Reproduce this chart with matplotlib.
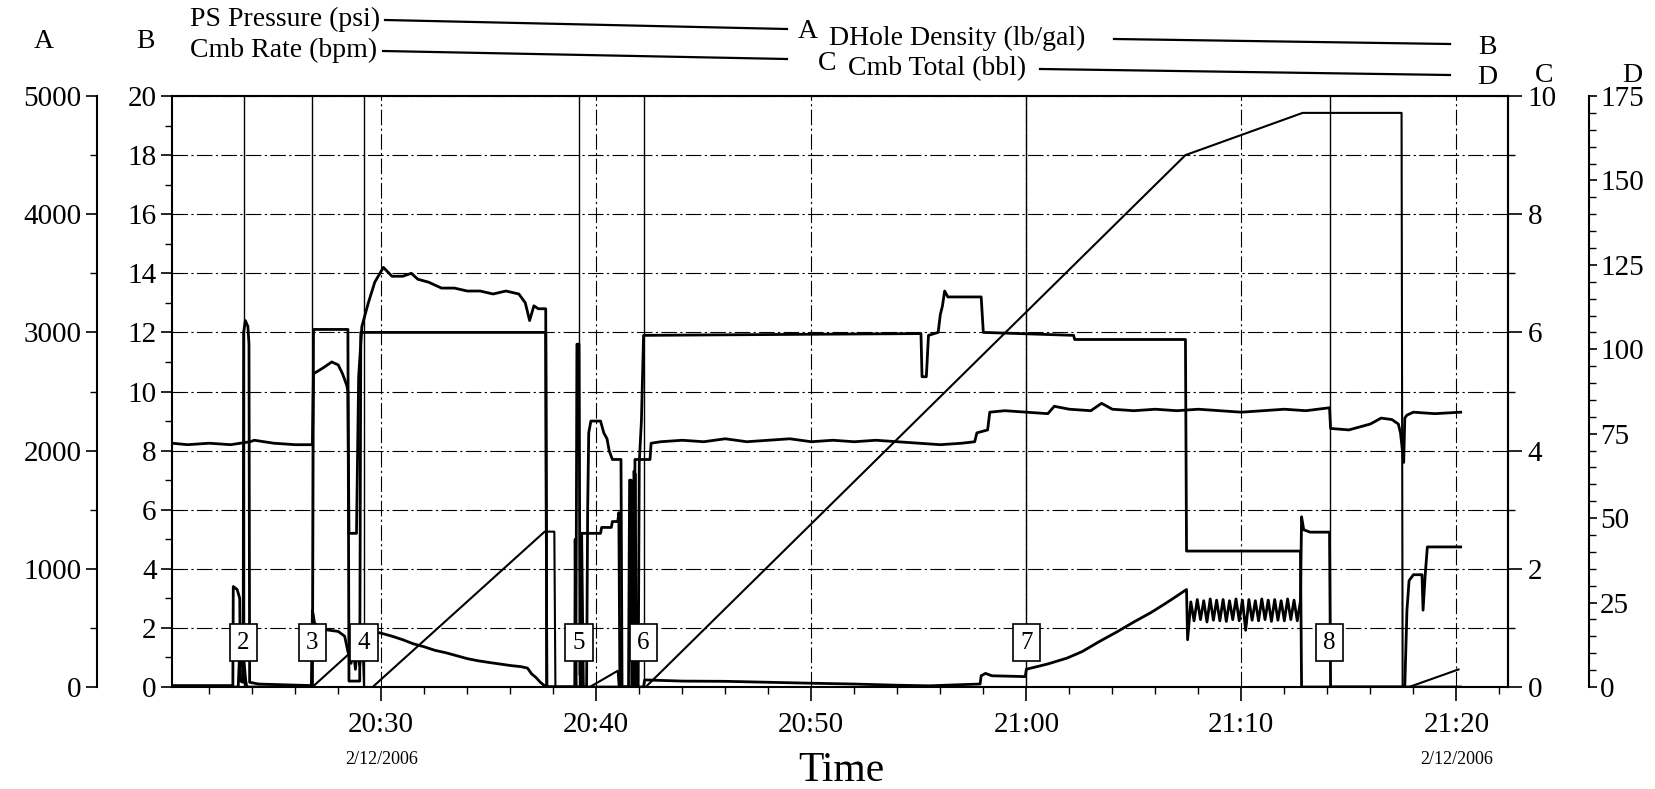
import matplotlib
matplotlib.use("Agg")
import matplotlib.pyplot as plt
from matplotlib.lines import Line2D
from matplotlib.ticker import MultipleLocator

plt.rcParams['font.family'] = ['Liberation Serif', 'DejaVu Serif']

# time is minutes after 20:00 on 2/12/2006

# PS Pressure (psi) -> axis A
press_t = [20.27, 23.1, 23.12, 23.3, 23.42, 23.45, 23.58, 23.6, 23.68, 23.8, 23.85, 23.88,
           24.3, 26.75, 26.8, 26.9, 27.2, 27.6, 28.0, 28.3, 28.45, 28.6, 28.7, 28.8, 28.9,
           29.0, 29.1, 29.3, 29.6, 30.0, 30.5, 31.0, 31.5, 32.0, 32.5, 33.0, 33.5, 34.0,
           34.5, 35.0, 35.5, 36.0, 36.5, 36.8, 37.0, 37.2, 37.4, 37.6, 37.7,
           39.0, 39.02, 39.06, 39.3, 39.32, 39.4, 42.2, 42.25, 44.0, 46.0, 48.0, 50.0,
           52.0, 54.0, 55.5, 57.0, 57.85, 57.9, 58.1, 58.4, 59.95, 60.0, 61.0, 61.9, 62.6,
           63.4, 64.2, 65.0, 65.8, 66.5, 67.0, 67.45,
           67.5, 67.65, 67.8, 67.95, 68.1, 68.25, 68.4, 68.55, 68.7, 68.85, 69.0, 69.15,
           69.3, 69.45, 69.6, 69.75, 69.9, 70.05, 70.2, 70.35, 70.5, 70.65, 70.8, 70.95,
           71.1, 71.25, 71.4, 71.55, 71.7, 71.85, 72.0, 72.15, 72.3, 72.45, 72.6, 72.75,
           72.8, 72.9, 73.2, 74.1, 74.15, 80.2]
press_psi = [12, 12, 850, 825, 750, 50, 40, 3000, 3100, 3050, 2900, 40,
             25, 12, 650, 540, 490, 480, 470, 430, 300, 200, 330, 150, 350,
             180, 380, 460, 470, 455, 430, 400, 365, 340, 310, 290, 265, 240,
             222, 208, 195, 182, 172, 160, 110, 80, 40, 10, 0,
             0, 1250, 0, 0, 1300, 0, 0, 60, 50, 48, 40, 32,
             25, 15, 10, 20, 25, 95, 115, 95, 88, 150, 195, 245, 300,
             385, 465, 550, 630, 710, 770, 825,
             400, 720, 560, 740, 570, 730, 550, 745, 565, 735, 560, 740,
             555, 730, 570, 745, 560, 735, 480, 740, 565, 730, 560, 745,
             570, 735, 555, 740, 565, 730, 560, 745, 570, 735, 560, 730,
             1440, 1330, 1310, 1310, 0, 0]

# DHole Density (lb/gal) -> axis B
dens_t = [20.27, 21.0, 22.0, 23.0, 23.9, 24.1, 25.0, 26.0, 26.8, 26.85, 27.3, 27.7,
          28.0, 28.2, 28.4, 28.45, 28.5, 28.85, 28.95, 29.1, 29.4, 29.7, 30.1, 30.5,
          31.0, 31.4, 31.7, 32.2, 32.8, 33.4, 34.0, 34.6, 35.2, 35.8, 36.4, 36.7, 36.9,
          37.1, 37.3, 37.65, 37.7, 39.55, 39.6, 39.65, 39.75, 40.2, 40.35, 40.5, 40.6,
          40.75, 41.15, 41.2, 41.75, 41.8, 42.5, 42.55, 43.0, 44.0, 45.0, 46.0, 47.0,
          48.0, 49.0, 50.0, 51.0, 52.0, 53.0, 54.0, 55.0, 56.0, 57.0, 57.6, 57.7, 58.2,
          58.3, 59.0, 60.0, 61.0, 61.3, 62.0, 63.0, 63.5, 64.0, 65.0, 66.0, 67.0, 68.0,
          69.0, 70.0, 71.0, 72.0, 73.0, 74.1, 74.15, 75.0, 75.5, 76.0, 76.5, 77.0, 77.3,
          77.4, 77.55, 77.6, 77.7, 78.0, 79.0, 80.2]
dens_ppg = [8.25, 8.2, 8.25, 8.2, 8.3, 8.35, 8.25, 8.2, 8.2, 10.6, 10.8, 11.0,
            10.9, 10.6, 10.2, 10.0, 5.2, 5.2, 10.5, 12.2, 13.0, 13.7, 14.2, 13.9,
            13.9, 14.0, 13.8, 13.7, 13.5, 13.5, 13.4, 13.4, 13.3, 13.4, 13.3, 13.0, 12.4,
            12.9, 12.8, 12.8, 0, 0, 6.0, 8.6, 9.0, 9.0, 8.6, 8.4, 8.0,
            7.7, 7.7, 0, 0, 7.7, 7.7, 8.25, 8.3, 8.35, 8.3, 8.4, 8.3,
            8.35, 8.4, 8.3, 8.35, 8.3, 8.35, 8.3, 8.25, 8.2, 8.25, 8.3, 8.6, 8.7,
            9.3, 9.35, 9.3, 9.25, 9.5, 9.4, 9.35, 9.6, 9.4, 9.35, 9.4, 9.35, 9.4,
            9.35, 9.3, 9.35, 9.4, 9.35, 9.45, 8.75, 8.7, 8.8, 8.9, 9.1, 9.05, 8.9,
            8.6, 7.6, 9.1, 9.2, 9.3, 9.25, 9.3]

# Cmb Rate (bpm) -> axis C
rate_t = [20.27, 23.35, 23.4, 23.5, 23.6, 23.7, 23.75, 26.8, 26.85, 28.45, 28.5, 29.0,
          29.05, 37.65, 37.7, 39.05, 39.1, 39.2, 39.25, 39.3, 40.2, 40.25, 40.7, 40.75,
          41.0, 41.05, 41.1, 41.5, 41.55, 41.62, 41.65, 41.72, 41.75, 41.82, 41.85,
          41.95, 42.0, 42.1, 42.2, 55.1, 55.15, 55.35, 55.45, 55.9, 56.0, 56.1, 56.2,
          56.35, 57.9, 58.0, 62.2, 62.25, 67.4, 67.45, 72.75, 72.8, 77.6, 77.7, 77.8,
          78.0, 78.4, 78.45, 78.55, 78.65, 80.2]
rate_bpm = [0, 0, 0.45, 0.35, 0.5, 0.1, 0, 0, 6.05, 6.05, 0.1, 0.1,
            6.0, 6.0, 0, 0, 5.8, 5.8, 0.2, 2.6, 2.6, 2.7, 2.7, 2.8,
            2.8, 2.95, 0, 0, 3.5, 3.5, 0, 0, 3.65, 3.6, 0,
            0, 3.8, 4.5, 5.95, 5.98, 5.25, 5.25, 5.95, 6.0, 6.3, 6.45, 6.7,
            6.6, 6.6, 6.0, 5.95, 5.88, 5.88, 2.3, 2.3, 0, 0, 1.3, 1.8,
            1.9, 1.9, 1.3, 1.9, 2.37, 2.37]

# Cmb Total (bbl) -> axis D
tot_t = [20.27, 26.8, 28.45, 29.15, 29.2, 29.6, 37.6, 38.05, 38.1, 39.7, 41.0, 41.05,
         42.3, 67.4, 72.85, 77.45, 77.5, 77.8, 80.1]
tot_bbl = [0, 0, 9.5, 9.5, 0, 0, 46, 46, 0, 0, 4.8, 0,
           0, 157.5, 170, 170, 0, 0, 5.2]

event_t = [23.6, 26.8, 29.2, 39.2, 42.2, 60.0, 74.1]
event_lbl = ['2', '3', '4', '5', '6', '7', '8']

time_ticks = [30, 40, 50, 60, 70, 80]
time_lbls = ['20:30', '20:40', '20:50', '21:00', '21:10', '21:20']
date_lbl = '2/12/2006'

W, H = 1656, 789
PT = 72 / 100  # points per pixel at dpi 100
fig = plt.figure(figsize=(W / 100, H / 100), dpi=100)
ax = fig.add_axes([172 / W, 1 - 687 / H, (1508 - 172) / W, (687 - 96) / H])
axA = ax.twinx()
axC = ax.twinx()
axD = ax.twinx()

lw = 2.0
axA.plot(press_t, press_psi, color='k', lw=lw)
ax.plot(dens_t, dens_ppg, color='k', lw=lw)
axC.plot(rate_t, rate_bpm, color='k', lw=lw)
axD.plot(tot_t, tot_bbl, color='k', lw=1.5)

ax.set_xlim(20.27, 82.4)
ax.set_ylim(0, 20)
axA.set_ylim(0, 5000)
axC.set_ylim(0, 10)
axD.set_ylim(0, 175)

# grid (dash-dot like the scan)
gstyle = (0, (14, 3, 2, 3))
ax.grid(True, which='major', color='k', lw=0.8, linestyle=gstyle)

for t in event_t:
    ax.axvline(t, color='k', lw=1.0)
for t, lbl in zip(event_t, event_lbl):
    axD.text(t, 0.075, lbl, transform=axD.get_xaxis_transform(), ha='center',
             va='center', fontsize=18, zorder=10,
             bbox=dict(boxstyle='square,pad=0.3', fc='white', ec='k', lw=1.2))

# x axis
ax.set_xticks(time_ticks)
ax.set_xticklabels(time_lbls)
ax.xaxis.set_minor_locator(MultipleLocator(2))
ax.tick_params(axis='x', which='major', length=10, width=1.2, labelsize=21, pad=8)
ax.tick_params(axis='x', which='minor', length=5, width=1.0)
for t in (time_ticks[0], time_ticks[-1]):
    ax.text(t, -0.108, date_lbl, transform=ax.get_xaxis_transform(), ha='center',
            va='top', fontsize=13)

# B axis (frame left)
ax.yaxis.set_major_locator(MultipleLocator(2))
ax.yaxis.set_minor_locator(MultipleLocator(1))
ax.tick_params(axis='y', which='major', length=8, width=1.2, labelsize=21, pad=3)
ax.tick_params(axis='y', which='minor', length=5, width=1.0)
for s in ax.spines.values():
    s.set_linewidth(1.5)

# A axis (outer left)
for k in ('top', 'bottom', 'right'):
    axA.spines[k].set_visible(False)
axA.spines['left'].set_visible(True)
axA.spines['left'].set_position(('outward', 75 * PT))
axA.spines['left'].set_linewidth(1.5)
axA.yaxis.set_ticks_position('left')
axA.yaxis.set_major_locator(MultipleLocator(1000))
axA.yaxis.set_minor_locator(MultipleLocator(500))
axA.tick_params(axis='y', which='major', length=8, width=1.2, labelsize=21, pad=3)
axA.tick_params(axis='y', which='minor', length=5, width=1.0)

# C axis (frame right)
for k in ('top', 'bottom', 'left'):
    axC.spines[k].set_visible(False)
axC.spines['right'].set_linewidth(1.5)
axC.yaxis.set_major_locator(MultipleLocator(2))
axC.yaxis.set_minor_locator(MultipleLocator(1))
axC.tick_params(axis='y', which='major', length=10, width=1.2, labelsize=21, pad=4)
axC.tick_params(axis='y', which='minor', length=5, width=1.0)

# D axis (outer right)
for k in ('top', 'bottom', 'left'):
    axD.spines[k].set_visible(False)
axD.spines['right'].set_position(('outward', 81 * PT))
axD.spines['right'].set_linewidth(1.5)
axD.yaxis.set_major_locator(MultipleLocator(25))
axD.yaxis.set_minor_locator(MultipleLocator(5))
axD.tick_params(axis='y', which='major', length=6, width=1.2, labelsize=21, pad=2)
axD.tick_params(axis='y', which='minor', length=5, width=1.0)

# axis letters
for lbl, x, y in (('A', 44, 42), ('B', 145, 42), ('C', 1544, 76), ('D', 1632, 76)):
    fig.text(x / W, 1 - y / H, lbl, ha='center', va='center', fontsize=20)

# header legend
def hline(x0, y0, x1, y1):
    fig.add_artist(Line2D([x0 / W, x1 / W], [1 - y0 / H, 1 - y1 / H],
                          transform=fig.transFigure, color='k', lw=1.6))

hs = 20
fig.text(190 / W, 1 - 19 / H, 'PS Pressure (psi)', ha='left', va='center', fontsize=hs)
hline(385, 20, 787, 29)
fig.text(808 / W, 1 - 31 / H, 'A', ha='center', va='center', fontsize=hs)
fig.text(829 / W, 1 - 38 / H, 'DHole Density (lb/gal)', ha='left', va='center', fontsize=hs)
hline(1114, 39, 1450, 44)
fig.text(1487 / W, 1 - 47 / H, 'B', ha='center', va='center', fontsize=hs)

fig.text(190 / W, 1 - 50 / H, 'Cmb Rate (bpm)', ha='left', va='center', fontsize=hs)
hline(383, 51, 787, 59)
fig.text(827 / W, 1 - 63 / H, 'C', ha='center', va='center', fontsize=hs)
fig.text(848 / W, 1 - 69 / H, 'Cmb Total (bbl)', ha='left', va='center', fontsize=hs)
hline(1040, 69, 1450, 75)
fig.text(1487 / W, 1 - 78 / H, 'D', ha='center', va='center', fontsize=hs)

fig.text(841 / W, 1 - 771 / H, 'Time', ha='center', va='center', fontsize=30)

fig.savefig('out.png', dpi=100)
